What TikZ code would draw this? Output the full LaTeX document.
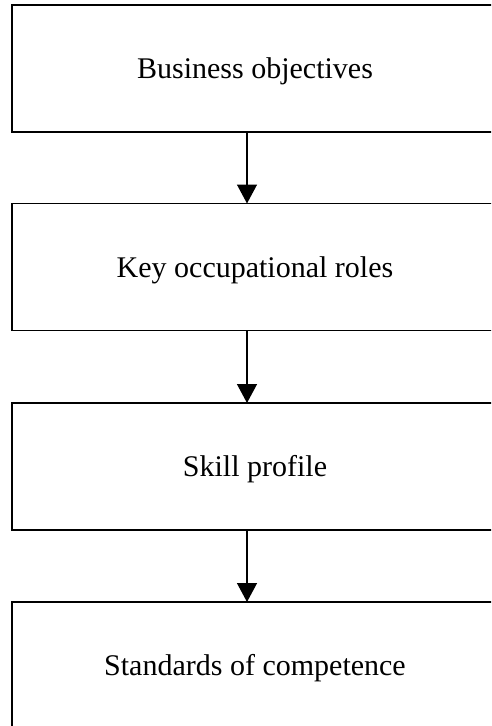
\documentclass[tikz,border=0pt]{standalone}
\usepackage{fontspec}
\setmainfont{Liberation Serif}
\usetikzlibrary{arrows.meta}

\begin{document}
\begin{tikzpicture}[x=1pt, y=-1pt,
    stage/.style={draw, line width=1.6pt, minimum width=486pt, minimum height=127pt,
        inner sep=0pt, outer sep=0pt, text height=22pt, text depth=2pt,
        font=\fontsize{30}{36}\selectfont},
    flow/.style={line width=1.4pt, -{Triangle[length=19pt, width=20pt]}}]
    \clip (0, 0) rectangle (491, 726);
    \fill[white] (0, 0) rectangle (491, 726);
    \node[stage] (objectives) at (255, 68.5) {Business objectives};
    \node[stage] (roles) at (255, 267) {Key occupational roles};
    \node[stage] (profile) at (255, 466.5) {Skill profile};
    \node[stage] (standards) at (255, 665.5) {Standards of competence};
    \draw[flow] ([xshift=-8pt]objectives.south) -- ([xshift=-8pt]roles.north);
    \draw[flow] ([xshift=-8pt]roles.south) -- ([xshift=-8pt]profile.north);
    \draw[flow] ([xshift=-8pt]profile.south) -- ([xshift=-8pt]standards.north);
\end{tikzpicture}
\end{document}
